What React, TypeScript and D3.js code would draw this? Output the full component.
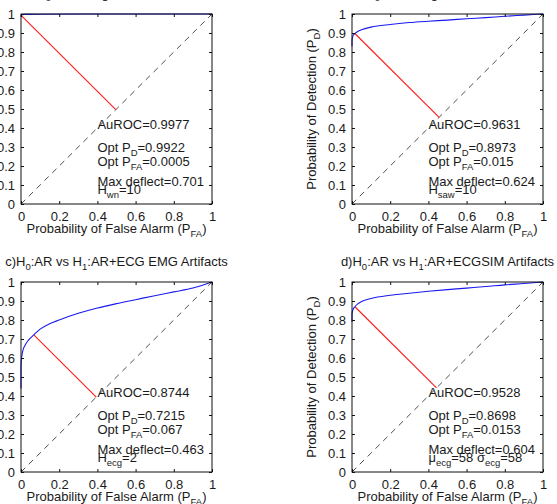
import React, { useEffect, useRef } from 'react';
import * as d3 from 'd3';

// ROC curves (PFA, PD)
const pfaA = [0, 0, 0.0005, 0.005, 0.02, 0.1, 0.5, 1];
const pdA = [0.985, 0.99, 0.9922, 0.996, 0.998, 0.999, 1, 1];

const pfaB = [0, 0, 0.005, 0.015, 0.03, 0.05, 0.1, 0.2, 0.3, 0.4, 0.5, 0.6, 0.7, 0.8, 0.9, 1];
const pdB = [0.83, 0.86, 0.885, 0.8973, 0.908, 0.917, 0.931, 0.945, 0.955, 0.962, 0.968, 0.975, 0.981, 0.988, 0.994, 1];

const pfaC = [0, 0, 0.002, 0.005, 0.01, 0.02, 0.04, 0.067, 0.1, 0.15, 0.2, 0.3, 0.4, 0.5, 0.6, 0.7, 0.8, 0.9, 1];
const pdC = [0.44, 0.55, 0.59, 0.615, 0.64, 0.665, 0.695, 0.7215, 0.752, 0.78, 0.8, 0.835, 0.863, 0.886, 0.907, 0.928, 0.948, 0.968, 1];

const pfaD = [0, 0, 0.005, 0.0153, 0.03, 0.05, 0.1, 0.2, 0.3, 0.4, 0.5, 0.6, 0.7, 0.8, 0.9, 1];
const pdD = [0.79, 0.83, 0.855, 0.8698, 0.885, 0.897, 0.913, 0.93, 0.941, 0.951, 0.96, 0.968, 0.976, 0.985, 0.992, 1];

// optimal operating points (PFA, PD)
const optPfa = [0.0005, 0.015, 0.067, 0.0153];
const optPd = [0.9922, 0.8973, 0.7215, 0.8698];
const auroc = ['0.9977', '0.9631', '0.8744', '0.9528'];
const maxDeflect = ['0.701', '0.624', '0.463', '0.604'];
const optPdText = ['0.9922', '0.8973', '0.7215', '0.8698'];
const optPfaText = ['0.0005', '0.015', '0.067', '0.0153'];

const titleLetters = ['a', 'b', 'c', 'd'];
const titleArtifacts = ['WN Artifacts', 'Saw Artifacts', 'ECG EMG Artifacts', 'ECGSIM Artifacts'];

const xTicks = [0, 0.2, 0.4, 0.6, 0.8, 1];
const yTicks = [0, 0.1, 0.2, 0.3, 0.4, 0.5, 0.6, 0.7, 0.8, 0.9, 1];

type Seg = { t: string; sub?: boolean };

const FONT = 'Liberation Sans, Arial, sans-serif';

const App: React.FC = () => {
  const svgRef = useRef<SVGSVGElement>(null);

  useEffect(() => {
    if (!svgRef.current) return;
    const root = d3.select(svgRef.current);
    root.selectAll('*').remove();

    const W = 191;
    const H = 190;
    const origins: [number, number][] = [[21, 14], [352, 14], [21, 282], [352, 282]];
    const curves = [[pfaA, pdA], [pfaB, pdB], [pfaC, pdC], [pfaD, pdD]];

    const params: Seg[][] = [
      [{ t: 'H' }, { t: 'wn', sub: true }, { t: '=10' }],
      [{ t: 'H' }, { t: 'saw', sub: true }, { t: '=10' }],
      [{ t: 'H' }, { t: 'ecg', sub: true }, { t: '=2' }],
      [{ t: 'μ' }, { t: 'ecg', sub: true }, { t: '=58 σ' }, { t: 'ecg', sub: true }, { t: '=58' }],
    ];

    // write text with subscripts as tspans
    const addText = (g: any, x: number, y: number, segs: Seg[], anchor = 'start', size = 13) => {
      const t = g.append('text')
        .attr('x', x)
        .attr('y', y)
        .attr('text-anchor', anchor)
        .style('font-family', FONT)
        .style('font-size', `${size}px`)
        .attr('fill', '#1a1a1a');
      let down = false;
      segs.forEach(s => {
        const sp = t.append('tspan').text(s.t);
        if (s.sub && !down) {
          sp.attr('dy', 4).style('font-size', '9.5px');
          down = true;
        } else if (!s.sub && down) {
          sp.attr('dy', -4);
          down = false;
        } else if (s.sub) {
          sp.style('font-size', '9.5px');
        }
      });
      return t;
    };

    origins.forEach(([ox, oy], i) => {
      const g = root.append('g').attr('transform', `translate(${ox},${oy})`);
      const x = d3.scaleLinear().domain([0, 1]).range([0, W]);
      const y = d3.scaleLinear().domain([0, 1]).range([H, 0]);

      // chance diagonal
      g.append('line')
        .attr('x1', x(0)).attr('y1', y(0))
        .attr('x2', x(1)).attr('y2', y(1))
        .attr('stroke', '#222')
        .attr('stroke-width', 0.8)
        .attr('stroke-dasharray', '6,5');

      // deflection from optimal point to diagonal
      const foot = (optPfa[i] + optPd[i]) / 2;
      g.append('line')
        .attr('x1', x(optPfa[i])).attr('y1', y(optPd[i]))
        .attr('x2', x(foot)).attr('y2', y(foot))
        .attr('stroke', '#ff1a1a')
        .attr('stroke-width', 1.1);

      // ROC curve
      const [fa, pd] = curves[i];
      const line = d3.line<number>()
        .x((_, k) => x(fa[k]))
        .y(d => y(d))
        .curve(d3.curveMonotoneX);
      g.append('path')
        .datum(pd)
        .attr('d', line as any)
        .attr('fill', 'none')
        .attr('stroke', '#1a1aee')
        .attr('stroke-width', 1.1);

      // axes with inward ticks on all four sides
      const styleAxis = (a: any) => {
        a.select('.domain').remove();
        a.selectAll('line').attr('stroke', '#111');
        a.selectAll('text').style('font-family', FONT).style('font-size', '13px').attr('fill', '#1a1a1a');
      };
      g.append('g').attr('transform', `translate(0,${H})`)
        .call(d3.axisBottom(x).tickValues(xTicks).tickSizeInner(-3).tickSizeOuter(0).tickPadding(8).tickFormat(d3.format('')))
        .call(styleAxis);
      g.append('g')
        .call(d3.axisTop(x).tickValues(xTicks).tickSizeInner(-3).tickSizeOuter(0).tickFormat(() => ''))
        .call(styleAxis);
      g.append('g')
        .call(d3.axisLeft(y).tickValues(yTicks).tickSizeInner(-3).tickSizeOuter(0).tickPadding(6).tickFormat(d3.format('')))
        .call(styleAxis);
      g.append('g').attr('transform', `translate(${W},0)`)
        .call(d3.axisRight(y).tickValues(yTicks).tickSizeInner(-3).tickSizeOuter(0).tickFormat(() => ''))
        .call(styleAxis);

      g.append('rect')
        .attr('x', 0).attr('y', 0)
        .attr('width', W).attr('height', H)
        .attr('fill', 'none')
        .attr('stroke', '#111')
        .attr('stroke-width', 1);

      // annotations
      const tx = x(0.4);
      addText(g, tx, y(0.42) + 4.6, [{ t: `AuROC=${auroc[i]}` }]);
      addText(g, tx, y(0.3) + 4.6, [{ t: 'Opt P' }, { t: 'D', sub: true }, { t: `=${optPdText[i]}` }]);
      addText(g, tx, y(0.224) + 4.6, [{ t: 'Opt P' }, { t: 'FA', sub: true }, { t: `=${optPfaText[i]}` }]);
      addText(g, tx, y(0.12) + 4.6, [{ t: `Max deflect=${maxDeflect[i]}` }]);
      addText(g, tx, y(0.078) + 4.6, params[i]);

      // axis labels
      addText(g, W / 2, H + 29, [{ t: 'Probability of False Alarm (P' }, { t: 'FA', sub: true }, { t: ')' }], 'middle');
      addText(g, 0, 0, [{ t: 'Probability of Detection (P' }, { t: 'D', sub: true }, { t: ')' }], 'middle')
        .attr('transform', `translate(-36,${H / 2}) rotate(-90)`);

      // title (top row is cropped by the figure edge)
      addText(g, W / 2, i < 2 ? -17.5 : -16, [
        { t: `${titleLetters[i]})H` }, { t: '0', sub: true }, { t: ':AR vs H' }, { t: '1', sub: true },
        { t: `:AR+${titleArtifacts[i]}` },
      ], 'middle');
    });
  }, []);

  return (
    <svg
      ref={svgRef}
      width={557}
      height={504}
      style={{ position: 'absolute', left: 0, top: 0, background: '#fff' }}
    />
  );
};

export default App;
